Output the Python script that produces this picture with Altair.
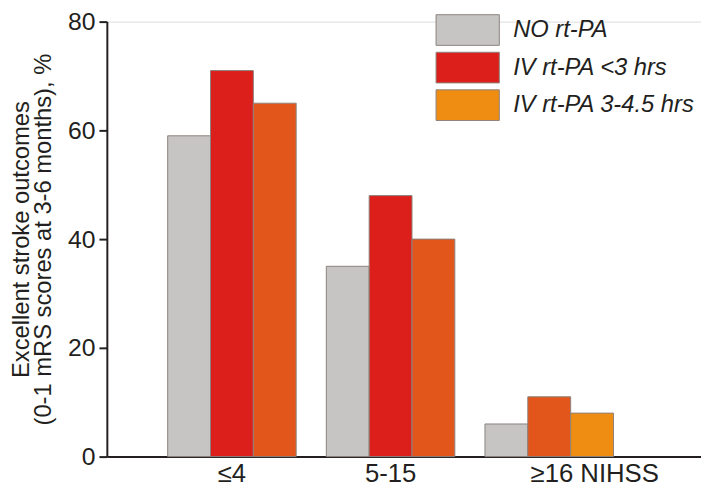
import altair as alt
import pandas as pd

groups = ["≤4", "5-15", "≥16 NIHSS"]
series = ["NO rt-PA", "IV rt-PA <3 hrs", "IV rt-PA 3-4.5 hrs"]
no_rtpa = [59, 35, 6]
iv_lt3 = [71, 48, 11]
iv_3_45 = [65, 40, 8]
# fill shade actually used for each bar (the figure recolours some bars)
shades = [
    ["NO rt-PA", "IV rt-PA <3 hrs", "orange-red"],
    ["NO rt-PA", "IV rt-PA <3 hrs", "orange-red"],
    ["NO rt-PA", "orange-red", "IV rt-PA 3-4.5 hrs"],
]
shade_domain = ["NO rt-PA", "IV rt-PA <3 hrs", "IV rt-PA 3-4.5 hrs", "orange-red"]
shade_range = ["#c6c5c4", "#dc1f1a", "#ef8d12", "#e3561b"]

rows = []
for gi, g in enumerate(groups):
    for si, (s, vals) in enumerate(zip(series, [no_rtpa, iv_lt3, iv_3_45])):
        rows.append({"group": g, "series": s, "value": vals[gi], "shade": shades[gi][si]})
df = pd.DataFrame(rows)
legend_df = pd.DataFrame({"series": series, "shade": series})

FONT = "Liberation Sans"
INK = "#231f20"
EDGE = "#8c827c"

color = alt.Color("shade:N", scale=alt.Scale(domain=shade_domain, range=shade_range), legend=None)

bars = alt.Chart(df).mark_bar(stroke=EDGE, strokeWidth=1).encode(
    x=alt.X(
        "group:N",
        sort=groups,
        scale=alt.Scale(paddingInner=0.19, paddingOuter=0.4675, align=0.41),
        axis=alt.Axis(
            title=None,
            labelAngle=0,
            ticks=False,
            labelFontSize=26,
            labelPadding=4,
            labelColor=INK,
            labelFont=FONT,
            domainColor=INK,
            domainWidth=2,
            labelOffset={"expr": "datum.label == '≥16 NIHSS' ? 46 : 0"},
        ),
    ),
    xOffset=alt.XOffset("series:N", sort=series, scale=alt.Scale(paddingInner=0, paddingOuter=0)),
    y=alt.Y(
        "value:Q",
        scale=alt.Scale(domain=[0, 80], nice=False),
        axis=alt.Axis(
            values=[0, 20, 40, 60, 80],
            title=["Excellent stroke outcomes", "(0-1 mRS scores at 3-6 months), %"],
            titleFontSize=24,
            titleFontWeight="normal",
            titleFont=FONT,
            titleColor=INK,
            titleLineHeight=22,
            titlePadding=12,
            labelFontSize=25,
            labelFont=FONT,
            labelColor=INK,
            labelPadding=4,
            tickSize=8,
            tickWidth=2,
            tickColor=INK,
            domainColor=INK,
            domainWidth=2,
            grid=False,
        ),
    ),
    color=color,
)

legend_scale = alt.Scale(domain=series, range=[-7, 100], paddingInner=0.184, paddingOuter=0)

legend_boxes = alt.Chart(legend_df).mark_rect(stroke=EDGE, strokeWidth=1).encode(
    x=alt.value(333),
    x2=alt.value(397),
    y=alt.Y("series:N", sort=series, scale=legend_scale, axis=None),
    color=color,
)

legend_text = alt.Chart(legend_df).mark_text(
    align="left", baseline="middle", font=FONT, fontSize=24, fontStyle="italic", color=INK
).encode(
    x=alt.value(411),
    y=alt.Y("series:N", sort=series, bandPosition=0.5, scale=legend_scale, axis=None),
    text="series:N",
)

legend = alt.layer(legend_boxes, legend_text)

chart = alt.layer(bars, legend).resolve_scale(y="independent").properties(
    width=601,
    height=440,
    autosize=alt.AutoSizeParams(type="none"),
    padding={"left": 100, "top": 11, "right": 0, "bottom": 31},
).configure_view(stroke=None).configure(background="white")

chart.save("out.html", embed_options={"renderer": "svg", "actions": False})
